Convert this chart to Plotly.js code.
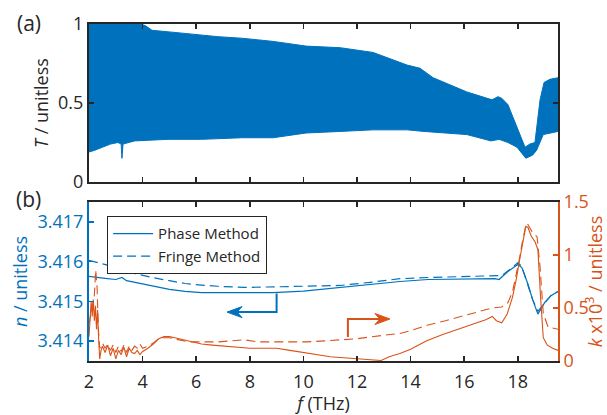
<!DOCTYPE html>
<html>
<head>
<meta charset="utf-8">
<script src="https://cdn.plot.ly/plotly-3.0.1.min.js"></script>
<style>html,body{margin:0;padding:0;background:#fff;}#chart{width:607px;height:415px;}</style>
</head>
<body>
<div id="chart"></div>
<script>
// ---------- Panel (a): transmission envelope (upper / lower edge of the dense fringes) ----------
const fUpperT = [2.0, 2.5, 3.0, 3.5, 3.9, 4.1, 4.35, 5.0, 5.58, 6.2, 6.8, 7.7, 8.87, 10.1, 11.37, 12.6, 13.23, 13.87, 14.35, 14.84, 16.1, 17.04, 17.26, 17.4, 17.63, 17.97, 18.27, 18.45, 18.64, 18.83, 18.98, 19.2, 19.5];
const tUpper  = [1.0, 1.0, 1.0, 1.0, 1.0, 0.99, 0.96, 0.95, 0.94, 0.93, 0.92, 0.91, 0.89, 0.86, 0.85, 0.82, 0.78, 0.74, 0.72, 0.66, 0.57, 0.52, 0.54, 0.53, 0.49, 0.35, 0.22, 0.24, 0.25, 0.52, 0.63, 0.65, 0.66];
const fLowerT = [2.0, 2.2, 2.5, 2.8, 3.08, 3.2, 3.23, 3.27, 3.7, 4.95, 6.2, 7.7, 8.87, 10.1, 11.37, 12.6, 13.87, 14.5, 16.1, 17.0, 17.3, 17.63, 17.97, 18.1, 18.3, 18.55, 18.7, 18.95, 19.5];
const tLower  = [0.19, 0.20, 0.22, 0.24, 0.25, 0.24, 0.15, 0.24, 0.26, 0.27, 0.27, 0.28, 0.28, 0.31, 0.32, 0.33, 0.33, 0.32, 0.30, 0.26, 0.27, 0.25, 0.22, 0.19, 0.15, 0.17, 0.20, 0.30, 0.32];

// ---------- Panel (b): refractive index n ----------
const fNPhase = [2.0, 2.3, 2.6, 3.0, 3.23, 3.4, 3.7, 4.35, 5.0, 5.58, 6.2, 6.8, 7.8, 8.87, 10.0, 11.37, 12.5, 13.6, 14.65, 16.0, 17.15, 17.3, 17.63, 18.0, 18.15, 18.38, 18.55, 18.75, 19.0, 19.25, 19.5];
const nPhase  = [3.41563, 3.41560, 3.41558, 3.41555, 3.41560, 3.41552, 3.41548, 3.41538, 3.41530, 3.41525, 3.41522, 3.41522, 3.41522, 3.41522, 3.41526, 3.41535, 3.41543, 3.41550, 3.41555, 3.41556, 3.41557, 3.41555, 3.41575, 3.41593, 3.41585, 3.41543, 3.41505, 3.41468, 3.41497, 3.41515, 3.41525];
const fNFringe = [2.0, 2.3, 2.6, 2.9, 3.1, 3.23, 3.35, 3.7, 4.0, 4.35, 5.0, 5.58, 6.2, 6.8, 7.8, 8.87, 10.0, 11.37, 12.5, 13.6, 14.65, 16.0, 17.15, 17.4, 17.7, 18.0, 18.15, 18.35, 18.55, 18.75, 19.0, 19.25, 19.5];
const nFringe  = [3.41603, 3.41598, 3.41593, 3.41588, 3.41584, 3.41590, 3.41582, 3.41570, 3.41565, 3.41560, 3.41552, 3.41545, 3.41541, 3.41538, 3.41535, 3.41537, 3.41538, 3.41540, 3.41548, 3.41557, 3.41560, 3.41562, 3.41563, 3.41565, 3.41580, 3.41597, 3.41588, 3.41545, 3.41505, 3.41475, 3.41497, 3.41516, 3.41525];

// ---------- Panel (b): extinction coefficient k (x10^3) ----------
const fKPhase = [2.0, 2.04, 2.08, 2.12, 2.16, 2.2, 2.24, 2.28, 2.32, 2.36, 2.4, 2.45, 2.5, 2.6, 2.7, 2.8, 2.9, 3.0, 3.1, 3.2, 3.3, 3.4, 3.5, 3.6, 3.7, 3.8, 3.9, 4.0, 4.2, 4.4, 4.6, 4.8, 5.0, 5.2, 5.5, 5.8, 6.2, 6.6, 7.0, 7.5, 8.0, 8.5, 9.0, 9.5, 10.0, 10.5, 11.0, 11.5, 12.0, 12.5, 12.9, 13.2, 13.6, 14.0, 14.6, 15.2, 15.8, 16.4, 16.8, 17.05, 17.2, 17.4, 17.6, 17.8, 17.95, 18.1, 18.2, 18.3, 18.38, 18.5, 18.65, 18.75, 18.85, 18.95, 19.1, 19.3, 19.5];
const kPhase  = [0.23, 0.45, 0.56, 0.42, 0.58, 0.38, 0.52, 0.30, 0.48, 0.20, 0.02, 0.10, 0.14, 0.08, 0.15, 0.05, 0.12, 0.02, 0.10, 0.06, 0.13, 0.04, 0.12, 0.08, 0.07, 0.10, 0.06, 0.09, 0.12, 0.16, 0.21, 0.23, 0.23, 0.22, 0.20, 0.18, 0.16, 0.15, 0.14, 0.13, 0.12, 0.12, 0.12, 0.10, 0.08, 0.06, 0.04, 0.03, 0.02, 0.01, 0.005, 0.04, 0.07, 0.11, 0.19, 0.25, 0.30, 0.35, 0.39, 0.42, 0.38, 0.36, 0.44, 0.60, 0.78, 1.00, 1.15, 1.27, 1.26, 1.18, 1.12, 1.05, 0.60, 0.22, 0.15, 0.12, 0.10];
const fKFringe = [2.0, 2.1, 2.2, 2.25, 2.3, 2.35, 2.4, 2.5, 2.6, 2.7, 2.8, 2.9, 3.0, 3.1, 3.2, 3.3, 3.4, 3.5, 3.6, 3.7, 3.8, 3.9, 4.0, 4.2, 4.4, 4.6, 4.8, 5.0, 5.3, 5.7, 6.2, 6.8, 7.3, 7.8, 8.3, 8.9, 9.5, 10.1, 10.8, 11.4, 12.0, 12.9, 13.6, 14.05, 14.65, 15.3, 15.9, 16.5, 17.04, 17.4, 17.63, 17.8, 17.9, 18.05, 18.16, 18.3, 18.35, 18.45, 18.53, 18.65, 18.72, 18.83, 18.95, 19.13, 19.28, 19.5];
const kFringe  = [0.35, 0.50, 0.62, 0.86, 0.70, 0.30, 0.12, 0.17, 0.12, 0.16, 0.10, 0.15, 0.08, 0.14, 0.09, 0.15, 0.08, 0.14, 0.10, 0.14, 0.12, 0.16, 0.12, 0.14, 0.17, 0.21, 0.22, 0.22, 0.20, 0.18, 0.18, 0.18, 0.19, 0.20, 0.18, 0.18, 0.18, 0.18, 0.19, 0.20, 0.21, 0.24, 0.26, 0.29, 0.34, 0.38, 0.42, 0.46, 0.50, 0.51, 0.55, 0.65, 0.76, 0.95, 1.11, 1.28, 1.30, 1.25, 1.22, 1.19, 1.17, 0.89, 0.45, 0.32, 0.31, 0.30];

// ---------- ticks ----------
const xTicks = [2, 4, 6, 8, 10, 12, 14, 16, 18];
const tTicks = [0, 0.5, 1];
const tTickText = ['0', '0.5', '1'];
const nTicks = [3.414, 3.415, 3.416, 3.417];
const kTicks = [0, 0.5, 1, 1.5];
const kTickText = ['0', '0.5', '1', '1.5'];

// ---------- styling ----------
const BLUE = '#0072BD';
const ORANGE = '#D95319';
const DARK = '#262626';
const FONT = 'Open Sans, Noto Sans, sans-serif';

const X_RANGE = [2, 19.5];
const N_RANGE = [3.4135, 3.4175];
const K_RANGE = [0, 1.5];
const MARGIN = {l: 89, r: 49, t: 24, b: 54};
const W = 607, H = 415;
const BOTTOM_DOMAIN = [0, 0.4718];
const TOP_DOMAIN = [0.5312, 1];

// pixel scales, used only to size the arrowheads of the guide arrows
const plotW = W - MARGIN.l - MARGIN.r;
const plotH = H - MARGIN.t - MARGIN.b;
const pxPerX = plotW / (X_RANGE[1] - X_RANGE[0]);
const pxPerN = plotH * (BOTTOM_DOMAIN[1] - BOTTOM_DOMAIN[0]) / (N_RANGE[1] - N_RANGE[0]);
const pxPerK = plotH * (BOTTOM_DOMAIN[1] - BOTTOM_DOMAIN[0]) / (K_RANGE[1] - K_RANGE[0]);

// guide arrows (positions of annotation glyphs)
const blueArrow = {x0: 9.0, yTop: 3.4152, y: 3.41473, xHead: 7.15};
const orangeArrow = {x0: 11.66, yBot: 0.226, y: 0.396, xHead: 13.23};

function arrowPath(xTip, y, dir, pyScale) {
  // dir = -1 (pointing left) or +1 (pointing right)
  const L = 15 / pxPerX, N = 10 / pxPerX, hw = 5.5 / pyScale;
  const xb = xTip - dir * L, xn = xTip - dir * N;
  return `M ${xTip},${y} L ${xb},${y + hw} L ${xn},${y} L ${xb},${y - hw} Z`;
}

const traces = [
  {x: fLowerT, y: tLower, type: 'scatter', mode: 'lines', line: {color: BLUE, width: 1}, xaxis: 'x2', yaxis: 'y', showlegend: false, hoverinfo: 'skip'},
  {x: fUpperT, y: tUpper, type: 'scatter', mode: 'lines', line: {color: BLUE, width: 1}, fill: 'tonexty', fillcolor: BLUE, xaxis: 'x2', yaxis: 'y', showlegend: false, hoverinfo: 'skip'},
  {x: fNPhase, y: nPhase, type: 'scatter', mode: 'lines', name: 'Phase Method', line: {color: BLUE, width: 1.2}, xaxis: 'x', yaxis: 'y2'},
  {x: fNFringe, y: nFringe, type: 'scatter', mode: 'lines', name: 'Fringe Method', line: {color: BLUE, width: 1.2, dash: '9px,5px'}, xaxis: 'x', yaxis: 'y2'},
  {x: fKPhase, y: kPhase, type: 'scatter', mode: 'lines', line: {color: ORANGE, width: 1.1}, xaxis: 'x', yaxis: 'y3', showlegend: false},
  {x: fKFringe, y: kFringe, type: 'scatter', mode: 'lines', line: {color: ORANGE, width: 1.1, dash: '9px,5px'}, xaxis: 'x', yaxis: 'y3', showlegend: false}
];

const axisCommon = {ticks: 'inside', ticklen: 5, tickwidth: 1.5, showline: true, linewidth: 2, showgrid: false, zeroline: false};

const layout = {
  width: W, height: H,
  margin: MARGIN,
  paper_bgcolor: '#fff', plot_bgcolor: '#fff',
  font: {family: FONT, size: 18, color: DARK},
  showlegend: true,
  legend: {x: 0.038, y: 0.43, xanchor: 'left', yanchor: 'top', traceorder: 'normal', itemwidth: 40, bgcolor: '#fff', bordercolor: DARK, borderwidth: 1.3, font: {size: 15, color: DARK}, tracegroupgap: 0},
  xaxis2: Object.assign({}, axisCommon, {anchor: 'y', domain: [0, 1], range: X_RANGE, tickvals: xTicks, showticklabels: false, linecolor: DARK, tickcolor: DARK, mirror: 'ticks'}),
  yaxis: Object.assign({}, axisCommon, {anchor: 'x2', domain: TOP_DOMAIN, range: [0, 1], tickvals: tTicks, ticktext: tTickText, linecolor: DARK, tickcolor: DARK, mirror: 'ticks', tickfont: {size: 18, color: DARK}, title: {text: '<i>T</i> / unitless', font: {size: 18, color: DARK}, standoff: 5}}),
  xaxis: Object.assign({}, axisCommon, {anchor: 'y2', domain: [0, 1], range: X_RANGE, tickvals: xTicks, linecolor: DARK, tickcolor: DARK, mirror: 'ticks', ticklabelstandoff: 3, tickfont: {size: 18, color: DARK}, title: {text: '<i>f</i> (THz)', font: {size: 18, color: DARK}, standoff: 6}}),
  yaxis2: Object.assign({}, axisCommon, {anchor: 'x', domain: BOTTOM_DOMAIN, range: N_RANGE, tickvals: nTicks, tickformat: '.3f', linecolor: BLUE, tickcolor: BLUE, tickfont: {size: 18, color: BLUE}, title: {text: '<i>n</i> / unitless', font: {size: 18, color: BLUE}, standoff: 5}}),
  yaxis3: Object.assign({}, axisCommon, {anchor: 'x', overlaying: 'y2', side: 'right', range: K_RANGE, tickvals: kTicks, ticktext: kTickText, linecolor: ORANGE, tickcolor: ORANGE, tickfont: {size: 18, color: ORANGE}, title: {text: '<i>k</i> x10<sup>3</sup> / unitless', font: {size: 18, color: ORANGE}, standoff: 6}}),
  shapes: [
    {type: 'path', xref: 'x', yref: 'y2', path: `M ${blueArrow.x0},${blueArrow.yTop} L ${blueArrow.x0},${blueArrow.y} L ${blueArrow.xHead + 10 / pxPerX},${blueArrow.y}`, line: {color: BLUE, width: 2}},
    {type: 'path', xref: 'x', yref: 'y2', path: arrowPath(blueArrow.xHead, blueArrow.y, -1, pxPerN), fillcolor: BLUE, line: {color: BLUE, width: 1}},
    {type: 'path', xref: 'x', yref: 'y3', path: `M ${orangeArrow.x0},${orangeArrow.yBot} L ${orangeArrow.x0},${orangeArrow.y} L ${orangeArrow.xHead - 10 / pxPerX},${orangeArrow.y}`, line: {color: ORANGE, width: 2}},
    {type: 'path', xref: 'x', yref: 'y3', path: arrowPath(orangeArrow.xHead, orangeArrow.y, 1, pxPerK), fillcolor: ORANGE, line: {color: ORANGE, width: 1}}
  ],
  annotations: [
    {xref: 'paper', yref: 'paper', x: -0.128, y: 1.004, text: '(a)', showarrow: false, xanchor: 'center', yanchor: 'middle', font: {size: 21, color: DARK}},
    {xref: 'paper', yref: 'paper', x: -0.128, y: 0.481, text: '(b)', showarrow: false, xanchor: 'center', yanchor: 'middle', font: {size: 21, color: DARK}}
  ]
};

Plotly.newPlot('chart', traces, layout, {displayModeBar: false, staticPlot: true});
</script>
</body>
</html>
